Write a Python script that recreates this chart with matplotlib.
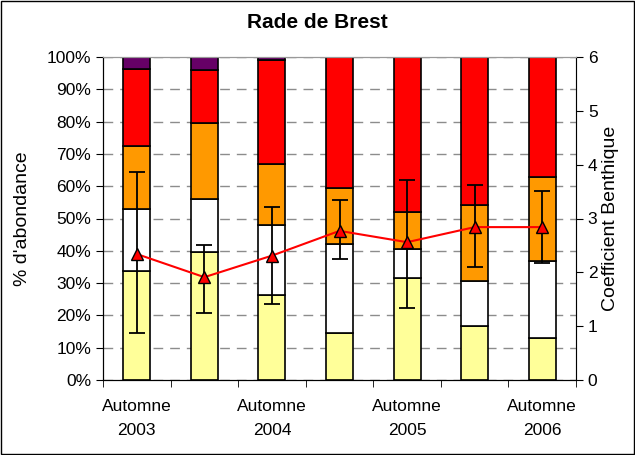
import matplotlib
matplotlib.use('Agg')
import matplotlib.pyplot as plt
import numpy as np
from matplotlib.patches import Rectangle

plt.rcParams['font.family'] = ['Liberation Sans', 'DejaVu Sans']

# data (% d'abondance per group, bottom to top)
labels = ['Automne\n2003', '', 'Automne\n2004', '', 'Automne\n2005', '', 'Automne\n2006']
grp1 = [33.9, 39.6, 26.4, 14.5, 31.6, 16.8, 12.9]   # yellow
grp2 = [19.1, 16.3, 21.5, 27.7, 9.1, 13.7, 23.8]    # white
grp3 = [19.3, 23.8, 19.1, 17.1, 11.3, 23.7, 26.0]   # orange
grp4 = [24.1, 16.2, 32.2, 40.7, 48.0, 45.8, 37.3]   # red
grp5 = [3.6, 4.1, 0.8, 0.0, 0.0, 0.0, 0.0]         # purple
coef = [2.34, 1.91, 2.31, 2.77, 2.56, 2.84, 2.84]
err_hi = [3.86, 2.50, 3.22, 3.35, 3.72, 3.63, 3.51]
err_lo = [0.87, 1.25, 1.42, 2.24, 1.33, 2.10, 2.17]

colors = ['#FFFF99', '#FFFFFF', '#FF9900', '#FF0000', '#660066']

fig = plt.figure(figsize=(6.35, 4.55), dpi=100)
ax = fig.add_axes([103/635, 75/455, 473/635, 323/455])
x = np.arange(len(labels))
bottom = np.zeros(len(labels))
for vals, c in zip([grp1, grp2, grp3, grp4, grp5], colors):
    ax.bar(x, vals, width=0.4, bottom=bottom, color=c, edgecolor='black', linewidth=1.2, zorder=2)
    bottom += np.array(vals)

ax.set_xlim(-0.5, len(labels) - 0.5)
ax.set_ylim(0, 100)
ax.set_yticks(np.arange(0, 101, 10))
ax.set_yticklabels(['%d%%' % v for v in range(0, 101, 10)], fontsize=12.5)
ax.yaxis.grid(True, linestyle=(0, (7, 5)), color='#8c8c8c', linewidth=1, zorder=0)
ax.set_axisbelow(True)
ax.set_xticks(x)
ax.set_xticklabels(labels, fontsize=12.5, linespacing=1.75)
ax.tick_params(axis='x', which='major', length=0, pad=14)
ax.set_xticks(np.arange(-0.5, len(labels), 1), minor=True)
ax.tick_params(axis='x', which='minor', length=5, direction='out')
ax.tick_params(axis='y', length=5, direction='out')
ax.set_ylabel("% d'abondance", fontsize=14, labelpad=11)
for s in ['top', 'right']:
    ax.spines[s].set_color('#999999')
ax.spines['left'].set_color('black')
ax.spines['bottom'].set_color('black')

ax2 = ax.twinx()
ax2.set_ylim(0, 6)
ax2.set_yticks(range(7))
ax2.tick_params(axis='y', labelsize=12.5, length=5, direction='out')
ax2.set_ylabel('Coefficient Benthique', fontsize=14, labelpad=3)
yerr = [np.array(coef) - np.array(err_lo), np.array(err_hi) - np.array(coef)]
ax2.errorbar(x, coef, yerr=yerr, fmt='none', ecolor='black', elinewidth=1.3, capsize=6, capthick=1.3, zorder=3)
ax2.plot(x, coef, color='#FF0000', linewidth=1.5, marker='^', markersize=9,
         markerfacecolor='#FF0000', markeredgecolor='black', markeredgewidth=1, zorder=4)
ax2.spines['right'].set_color('black')
ax2.spines['top'].set_color('#999999')

fig.text(0.5, 1 - 22/455, 'Rade de Brest', ha='center', va='center', fontsize=15, fontweight='bold')
fig.patches.append(Rectangle((0.002, 0.002), 0.996, 0.996, transform=fig.transFigure,
                             fill=False, edgecolor='black', linewidth=1))

fig.savefig('out.png', dpi=100)
